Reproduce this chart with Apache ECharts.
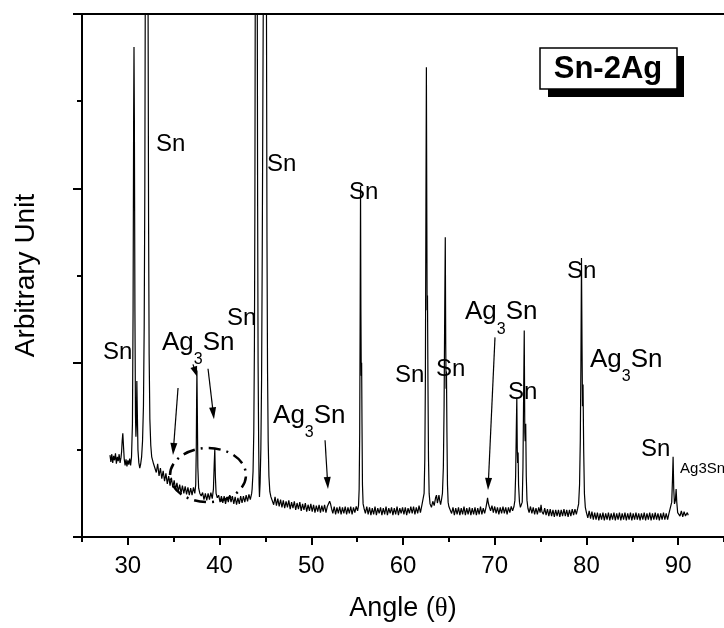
<!DOCTYPE html>
<html>
<head>
<meta charset="utf-8">
<script src="https://cdn.jsdelivr.net/npm/echarts/dist/echarts.min.js"></script>
<style>
  html, body { margin: 0; padding: 0; background: #fff; }
  #chart { width: 724px; height: 628px; }
</style>
</head>
<body>
<div id="chart"></div>
<script>
// XRD pattern of Sn-2Ag: [angle, intensity (arb.)]
var xrdProfile = [
  [28.05,0.94],[28.15,0.86],[28.25,0.95],[28.35,0.85],[28.45,0.93],[28.55,0.88],[28.65,0.96],[28.75,0.84],
  [28.85,0.92],[28.95,0.87],[29.05,0.95],[29.15,0.85],[29.25,0.91],[29.32,0.98],[29.38,1.1],[29.45,1.19],
  [29.52,1.05],[29.6,0.9],[29.7,0.82],[29.8,0.89],[29.9,0.81],[30.0,0.88],[30.1,0.83],[30.2,0.9],
  [30.3,0.82],[30.4,0.92],[30.5,1.3],[30.57,2.6],[30.63,4.8],[30.67,5.62],[30.71,4.8],[30.77,2.6],
  [30.83,1.4],[30.88,1.15],[30.93,1.3],[30.98,1.79],[31.03,1.45],[31.1,1.0],[31.2,0.85],[31.3,0.79],
  [31.4,0.84],[31.5,0.92],[31.6,1.1],[31.7,1.5],[31.78,2.4],[31.85,4.0],[31.9,6.3],[31.96,10],
  [32.05,14],[32.14,10],[32.2,6.3],[32.26,3.6],[32.32,2.1],[32.4,1.35],[32.5,1.05],[32.6,0.92],
  [32.7,0.88],[32.8,0.84],[32.95,0.83],[33.1,0.74],[33.25,0.84],[33.4,0.7],[33.55,0.79],[33.7,0.67],
  [33.85,0.76],[34.0,0.64],[34.15,0.73],[34.3,0.61],[34.45,0.7],[34.6,0.59],[34.75,0.68],[34.9,0.57],
  [35.05,0.65],[35.2,0.54],[35.35,0.62],[35.5,0.52],[35.65,0.6],[35.8,0.5],[35.95,0.59],[36.1,0.5],
  [36.25,0.58],[36.4,0.49],[36.55,0.57],[36.7,0.48],[36.85,0.56],[37.0,0.48],[37.15,0.57],[37.3,0.5],
  [37.4,0.6],[37.46,1.0],[37.5,1.6],[37.53,1.91],[37.57,1.5],[37.63,0.8],[37.72,0.56],[37.85,0.5],
  [38.0,0.47],[38.15,0.51],[38.3,0.43],[38.45,0.5],[38.6,0.42],[38.75,0.5],[38.9,0.43],[39.05,0.51],
  [39.2,0.44],[39.33,0.55],[39.42,0.85],[39.48,1.01],[39.54,0.7],[39.62,0.5],[39.75,0.45],[39.9,0.48],
  [40.05,0.4],[40.2,0.47],[40.35,0.39],[40.5,0.47],[40.65,0.38],[40.8,0.46],[40.95,0.4],[41.1,0.48],
  [41.25,0.4],[41.4,0.47],[41.55,0.38],[41.7,0.46],[41.85,0.37],[42.0,0.45],[42.15,0.38],[42.3,0.47],
  [42.45,0.39],[42.6,0.47],[42.75,0.4],[42.9,0.48],[43.05,0.41],[43.2,0.49],[43.35,0.43],[43.5,0.5],
  [43.55,0.55],[43.65,0.75],[43.73,1.2],[43.8,2.2],[43.85,3.8],[43.89,6.2],[43.95,11],[44.05,11],
  [44.11,6.2],[44.15,3.8],[44.2,2.0],[44.26,1.1],[44.31,0.6],[44.35,0.46],[44.42,0.62],[44.5,1.0],
  [44.58,1.8],[44.65,3.2],[44.72,5],[44.78,6.5],[44.87,12],[44.97,14],[45.05,10],[45.11,6.2],
  [45.17,3.4],[45.23,1.9],[45.3,1.1],[45.38,0.7],[45.48,0.52],[45.6,0.46],[45.75,0.45],[45.9,0.37],
  [46.05,0.46],[46.2,0.36],[46.35,0.44],[46.5,0.35],[46.65,0.43],[46.8,0.34],[46.95,0.42],[47.1,0.33],
  [47.25,0.41],[47.4,0.34],[47.55,0.42],[47.7,0.32],[47.85,0.4],[48.0,0.33],[48.15,0.41],[48.3,0.31],
  [48.45,0.39],[48.6,0.32],[48.75,0.4],[48.9,0.3],[49.05,0.38],[49.2,0.31],[49.35,0.39],[49.5,0.29],
  [49.65,0.37],[49.8,0.3],[49.95,0.38],[50.1,0.29],[50.25,0.37],[50.4,0.28],[50.55,0.36],[50.7,0.29],
  [50.85,0.37],[51.0,0.28],[51.15,0.36],[51.3,0.29],[51.45,0.37],[51.6,0.28],[51.75,0.35],[51.9,0.34],
  [52.0,0.41],[52.1,0.38],[52.2,0.33],[52.35,0.27],[52.5,0.35],[52.65,0.26],[52.8,0.34],[52.95,0.27],
  [53.1,0.35],[53.25,0.26],[53.4,0.34],[53.55,0.27],[53.7,0.35],[53.85,0.26],[54.0,0.34],[54.15,0.27],
  [54.3,0.35],[54.45,0.26],[54.6,0.34],[54.75,0.28],[54.9,0.35],[55.05,0.3],[55.15,0.36],[55.22,0.55],
  [55.28,1.2],[55.33,2.6],[55.37,4.03],[55.41,2.6],[55.45,1.85],[55.49,2.0],[55.53,1.3],[55.58,0.6],
  [55.65,0.38],[55.75,0.33],[55.9,0.27],[56.05,0.35],[56.2,0.26],[56.35,0.34],[56.5,0.25],[56.65,0.33],
  [56.8,0.26],[56.95,0.35],[57.1,0.25],[57.25,0.33],[57.4,0.27],[57.55,0.34],[57.7,0.25],[57.85,0.33],
  [58.0,0.26],[58.15,0.35],[58.3,0.25],[58.45,0.33],[58.6,0.27],[58.75,0.34],[58.9,0.25],[59.05,0.33],
  [59.2,0.26],[59.35,0.35],[59.5,0.25],[59.65,0.33],[59.8,0.27],[59.95,0.34],[60.1,0.26],[60.25,0.34],
  [60.4,0.25],[60.55,0.33],[60.7,0.27],[60.85,0.35],[61.0,0.27],[61.15,0.35],[61.3,0.26],[61.45,0.34],
  [61.6,0.27],[61.75,0.36],[61.9,0.28],[62.05,0.36],[62.2,0.38],[62.3,0.5],[62.38,0.9],[62.44,1.8],
  [62.5,3.8],[62.55,5.39],[62.6,3.6],[62.63,2.6],[62.67,2.77],[62.72,1.8],[62.78,0.9],[62.85,0.5],
  [62.95,0.38],[63.1,0.34],[63.25,0.41],[63.4,0.36],[63.55,0.45],[63.65,0.48],[63.75,0.39],[63.85,0.44],
  [63.92,0.48],[64.0,0.42],[64.1,0.37],[64.2,0.43],[64.3,0.5],[64.4,0.8],[64.48,1.5],[64.55,2.6],
  [64.61,3.44],[64.66,2.2],[64.7,1.7],[64.74,1.9],[64.79,1.2],[64.85,0.6],[64.92,0.4],[65.0,0.35],
  [65.15,0.35],[65.3,0.27],[65.45,0.34],[65.6,0.25],[65.75,0.33],[65.9,0.26],[66.05,0.34],[66.2,0.25],
  [66.35,0.33],[66.5,0.26],[66.65,0.35],[66.8,0.25],[66.95,0.33],[67.1,0.26],[67.25,0.34],[67.4,0.25],
  [67.55,0.33],[67.7,0.26],[67.85,0.34],[68.0,0.25],[68.15,0.33],[68.3,0.26],[68.45,0.35],[68.6,0.26],
  [68.75,0.33],[68.9,0.27],[69.05,0.34],[69.15,0.4],[69.22,0.45],[69.3,0.39],[69.4,0.35],[69.55,0.3],
  [69.7,0.36],[69.85,0.28],[70.0,0.35],[70.15,0.27],[70.3,0.34],[70.45,0.26],[70.6,0.34],[70.75,0.27],
  [70.9,0.35],[71.05,0.27],[71.2,0.34],[71.35,0.26],[71.5,0.34],[71.65,0.28],[71.8,0.35],[71.95,0.3],
  [72.1,0.35],[72.2,0.42],[72.28,0.7],[72.35,1.2],[72.41,1.6],[72.46,1.0],[72.5,0.85],[72.55,0.97],
  [72.6,0.6],[72.7,0.4],[72.8,0.34],[72.9,0.33],[73.0,0.4],[73.08,0.8],[73.15,1.6],[73.22,2.37],
  [73.28,1.2],[73.32,1.1],[73.38,1.3],[73.44,0.7],[73.52,0.42],[73.62,0.33],[73.75,0.28],[73.9,0.35],
  [74.05,0.27],[74.2,0.34],[74.35,0.26],[74.5,0.33],[74.65,0.26],[74.8,0.34],[74.95,0.28],[75.05,0.37],
  [75.15,0.29],[75.3,0.26],[75.45,0.33],[75.6,0.25],[75.75,0.32],[75.9,0.24],[76.05,0.32],[76.2,0.24],
  [76.35,0.31],[76.5,0.23],[76.65,0.31],[76.8,0.24],[76.95,0.31],[77.1,0.23],[77.25,0.31],[77.4,0.24],
  [77.55,0.32],[77.7,0.24],[77.85,0.31],[78.0,0.23],[78.15,0.31],[78.3,0.24],[78.45,0.32],[78.6,0.25],
  [78.75,0.32],[78.9,0.26],[79.05,0.33],[79.15,0.38],[79.25,0.6],[79.33,1.1],[79.4,2.0],[79.46,3.2],
  [79.52,2.2],[79.57,1.5],[79.63,1.75],[79.7,1.0],[79.78,0.5],[79.88,0.34],[80.0,0.28],[80.15,0.22],
  [80.3,0.3],[80.45,0.21],[80.6,0.29],[80.75,0.2],[80.9,0.28],[81.05,0.2],[81.2,0.28],[81.35,0.19],
  [81.5,0.27],[81.65,0.2],[81.8,0.28],[81.95,0.19],[82.1,0.27],[82.25,0.2],[82.4,0.28],[82.55,0.19],
  [82.7,0.27],[82.85,0.2],[83.0,0.28],[83.15,0.19],[83.3,0.27],[83.45,0.2],[83.6,0.28],[83.75,0.19],
  [83.9,0.27],[84.05,0.2],[84.2,0.28],[84.35,0.19],[84.5,0.27],[84.65,0.2],[84.8,0.28],[84.95,0.19],
  [85.1,0.27],[85.25,0.2],[85.4,0.28],[85.55,0.2],[85.7,0.27],[85.85,0.19],[86.0,0.27],[86.15,0.2],
  [86.3,0.28],[86.45,0.19],[86.6,0.27],[86.75,0.2],[86.9,0.28],[87.05,0.19],[87.2,0.27],[87.35,0.2],
  [87.5,0.28],[87.65,0.2],[87.8,0.27],[87.95,0.19],[88.1,0.27],[88.25,0.2],[88.4,0.28],[88.55,0.2],
  [88.7,0.27],[88.85,0.2],[89.0,0.27],[89.15,0.28],[89.3,0.4],[89.38,0.65],[89.45,0.92],[89.52,0.55],
  [89.6,0.38],[89.7,0.42],[89.78,0.55],[89.85,0.4],[89.95,0.28],[90.05,0.3],[90.2,0.24],[90.35,0.3],
  [90.5,0.23],[90.65,0.29],[90.8,0.24],[91.0,0.28],[91.1,0.25]
];

var xMajorTicks = [30, 40, 50, 60, 70, 80, 90];
var xMinorTicks = [25, 35, 45, 55, 65, 75, 85, 95];

// phase labels and where they sit, in data units: [angle, intensity]
var snLabelAt = [[27.29,2.12],[33.07,4.51],[45.17,4.27],[40.81,2.51],[54.11,3.95],
                 [59.13,1.85],[63.6,1.92],[71.45,1.66],[77.88,3.05],[85.95,1.0]];
var ag3snLabelAt = [[33.72,2.23],[45.83,1.39],[66.76,2.58],[80.39,2.03]];
// arrows: [from, to] in data units
var arrows = [
  [[35.47,1.71],[34.92,0.94]],
  [[37.1,1.98],[37.54,1.84]],
  [[38.74,1.93],[39.39,1.35]],
  [[51.5,1.11],[51.82,0.55]],
  [[70.03,2.29],[69.27,0.54]]
];

var FONT = '"Liberation Sans", Arial, Helvetica, sans-serif';

var chart = echarts.init(document.getElementById('chart'));

var option = {
  animation: false,
  backgroundColor: '#fff',
  grid: { left: 82, right: 0, top: 14, bottom: 91, containLabel: false, outerBoundsMode: 'none' },
  xAxis: [
    {
      type: 'value', position: 'bottom', min: 25, max: 95,
      name: 'Angle ({t|θ})', nameLocation: 'middle', nameGap: 58,
      nameTextStyle: {
        color: '#000', fontSize: 27, fontFamily: FONT,
        rich: { t: { fontSize: 27, fontFamily: '"Liberation Serif", "DejaVu Serif", serif', color: '#000' } }
      },
      axisLine: { show: true, lineStyle: { color: '#000', width: 2 } },
      axisTick: { show: true, customValues: xMajorTicks, length: 8, lineStyle: { color: '#000', width: 2 } },
      axisLabel: { show: true, customValues: xMajorTicks, color: '#000', fontSize: 24, fontFamily: FONT, margin: 17 },
      splitLine: { show: false }
    },
    {
      type: 'value', position: 'bottom', min: 25, max: 95,
      axisLine: { show: false },
      axisTick: { show: true, customValues: xMinorTicks, length: 5, lineStyle: { color: '#000', width: 2 } },
      axisLabel: { show: false },
      splitLine: { show: false }
    },
    {
      type: 'value', position: 'top', min: 25, max: 95,
      axisLine: { show: true, lineStyle: { color: '#000', width: 2 } },
      axisTick: { show: false }, axisLabel: { show: false }, splitLine: { show: false }
    }
  ],
  yAxis: {
    type: 'value', min: 0, max: 6, interval: 2,
    name: 'Arbitrary Unit', nameLocation: 'middle', nameGap: 42, nameRotate: 90,
    nameTextStyle: { color: '#000', fontSize: 28, fontFamily: FONT },
    axisLine: { show: true, lineStyle: { color: '#000', width: 2 } },
    axisTick: { show: true, length: 9, lineStyle: { color: '#000', width: 2 } },
    minorTick: { show: true, splitNumber: 2, length: 5, lineStyle: { color: '#000', width: 2 } },
    axisLabel: { show: false },
    splitLine: { show: false }
  },
  series: [{
    type: 'line',
    xAxisIndex: 0,
    data: xrdProfile,
    showSymbol: false,
    symbol: 'none',
    clip: true,
    sampling: null,
    lineStyle: { color: '#000', width: 1.2 }
  }]
};

chart.setOption(option);

// annotations, placed through the grid's own scales
function px(p) { return chart.convertToPixel({ gridIndex: 0 }, p); }

var g = [];
snLabelAt.forEach(function (p) {
  var q = px(p);
  g.push({ type: 'text', x: q[0], y: q[1], z: 100,
    style: { text: 'Sn', fill: '#000', fontSize: 24, fontFamily: FONT, align: 'left', verticalAlign: 'middle' } });
});
ag3snLabelAt.forEach(function (p) {
  var q = px(p);
  g.push({ type: 'text', x: q[0], y: q[1] - 13, z: 100,
    style: {
      text: '{a|Ag}{s|3}{a|Sn}', align: 'left', verticalAlign: 'top',
      rich: {
        a: { fontSize: 26, lineHeight: 28, fontFamily: FONT, fill: '#000', color: '#000', verticalAlign: 'top' },
        s: { fontSize: 16, lineHeight: 16, fontFamily: FONT, fill: '#000', color: '#000', verticalAlign: 'top', padding: [22, 0, 0, 0] }
      }
    } });
});
var small = px([90.21, 0.78]);
g.push({ type: 'text', x: small[0], y: small[1], z: 100,
  style: { text: 'Ag3Sn', fill: '#000', fontSize: 15, fontFamily: FONT, align: 'left', verticalAlign: 'middle' } });

arrows.forEach(function (a) {
  var s = px(a[0]), t = px(a[1]);
  var dx = t[0] - s[0], dy = t[1] - s[1];
  var len = Math.sqrt(dx * dx + dy * dy);
  var ux = dx / len, uy = dy / len, nx = -uy, ny = ux;
  var hl = Math.min(12, len * 0.8), hw = 3.5;
  var bx = t[0] - ux * hl, by = t[1] - uy * hl;
  g.push({ type: 'line', z: 100, shape: { x1: s[0], y1: s[1], x2: bx + ux * 2, y2: by + uy * 2 },
    style: { stroke: '#000', lineWidth: 1.2 } });
  g.push({ type: 'polygon', z: 100,
    shape: { points: [[t[0], t[1]], [bx + nx * hw, by + ny * hw], [bx - nx * hw, by - ny * hw]] },
    style: { fill: '#000' } });
});

// dash-dot ellipse round the Ag3Sn peaks near 38-40
var ec = px([38.74, 0.71]), ee = px([38.74 + 4.14, 0.71 + 0.31]);
g.push({ type: 'ellipse', z: 100,
  shape: { cx: ec[0], cy: ec[1], rx: ee[0] - ec[0], ry: ec[1] - ee[1] },
  style: { fill: 'none', stroke: '#000', lineWidth: 2.5, lineDash: [12, 6, 2, 6] } });

// sample tag with drop shadow
g.push({ type: 'rect', z: 100, shape: { x: 548, y: 56, width: 136, height: 41 }, style: { fill: '#000' } });
g.push({ type: 'rect', z: 101, shape: { x: 540, y: 48, width: 137, height: 41 },
  style: { fill: '#fff', stroke: '#000', lineWidth: 1.5 } });
g.push({ type: 'text', z: 102, x: 608, y: 69,
  style: { text: 'Sn-2Ag', fill: '#000', fontSize: 31, fontWeight: 'bold', fontFamily: FONT, align: 'center', verticalAlign: 'middle' } });

chart.setOption({ graphic: g });
</script>
</body>
</html>
